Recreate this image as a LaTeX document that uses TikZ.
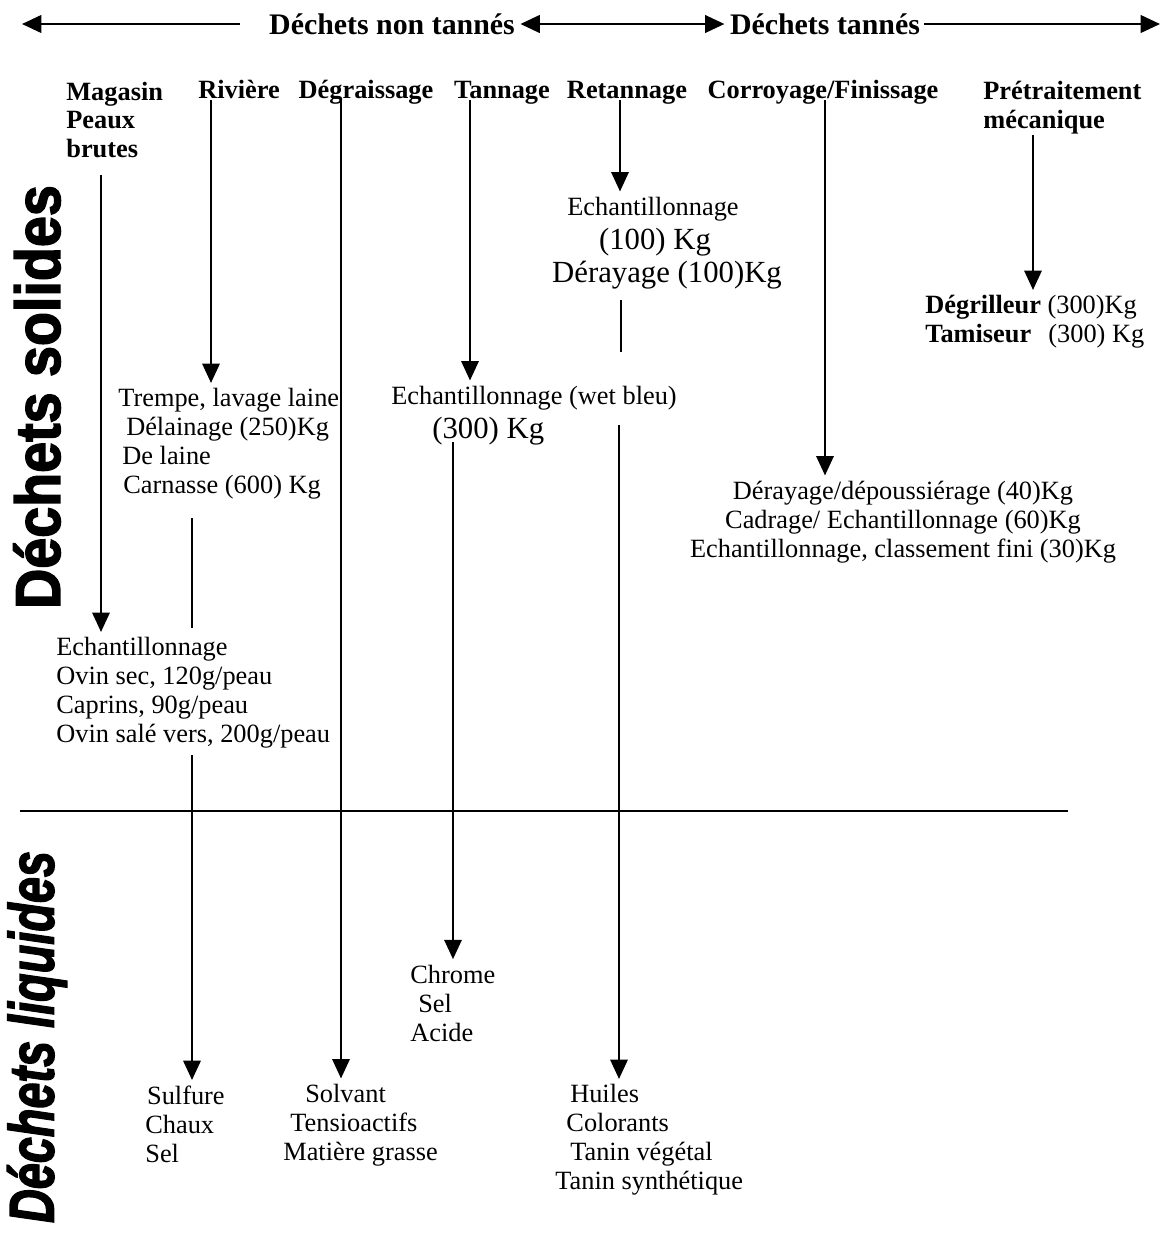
\documentclass[tikz,border=0pt]{standalone}
\usepackage{fontspec}
\setmainfont{Liberation Serif}
\newfontfamily\sidefont[BoldFeatures={FakeBold=2.5}, BoldItalicFeatures={FakeBold=2.5}]{Liberation Sans}
\usepackage{graphicx}
\usetikzlibrary{positioning, arrows.meta}

\begin{document}
\begin{tikzpicture}[x=0.02cm, y=-0.02cm,
  >={Triangle[width=10pt,length=11pt]},
  txt/.style={inner sep=0pt, font=\fontsize{15}{16.5}\selectfont},
  hd/.style={inner sep=0pt, font=\fontsize{15}{16.5}\selectfont\bfseries},
  bigtxt/.style={inner sep=0pt, font=\fontsize{17.5}{19}\selectfont},
  toptxt/.style={inner sep=0pt, font=\fontsize{17}{20}\selectfont\bfseries},
  side/.style={rotate=90, inner sep=0pt, font=\sidefont\fontsize{36}{36}\selectfont\bfseries},
  down/.style={line width=0.8pt, ->, shorten >=3pt},
  plain/.style={line width=0.8pt},
  toparr/.style={line width=1.3pt}]
\useasboundingbox (0,0) rectangle (1162,1235);

% top arrows
\node[toptxt] (nontan) at (392,24) {Déchets non tannés};
\node[toptxt] (tan) at (825,24) {Déchets tannés};
\coordinate (lstart) at (240,24);
\coordinate (lend) at (22,24);
\coordinate (rend) at (1160,24);
\draw[toparr, ->] (lstart) -- (lend);
\draw[toparr, <->, shorten <=3pt, shorten >=3pt] (nontan.east) -- (tan.west);
\draw[toparr, ->, shorten <=2pt] (tan.east) -- (rend);

% side labels
\node[side] (solid) at (37,397) {\scalebox{0.88}[1]{Déchets solides}};
\node[side] (liquid) at (37,1037) {\itshape\scalebox{0.74}[1]{Déchets liquides}};

% separation line
\coordinate (sepl) at (20,811);
\coordinate (sepr) at (1068,811);
\draw[line width=0.9pt] (sepl) -- (sepr);

% column heads
\node[hd, anchor=west, align=left] (hmag) at (66,120) {Magasin\\Peaux\\brutes};
\node[hd, anchor=base] (hriv) at (239,98) {Rivière};
\node[hd, anchor=base] (hdeg) at (366,98) {Dégraissage};
\node[hd, anchor=base] (htan) at (502,98) {Tannage};
\node[hd, anchor=base] (hret) at (627,98) {Retannage};
\node[hd, anchor=base] (hcor) at (823,98) {Corroyage/Finissage};
\node[hd, anchor=west, align=left] (hpre) at (983,108) {Prétraitement\\mécanique};

% solid wastes
\node[txt, anchor=west, align=left] (briv) at (118,444) {Trempe, lavage laine\\\hspace*{4.5pt}Délainage (250)Kg\\\hspace*{2.3pt}De laine\\\hspace*{2.8pt}Carnasse (600) Kg};
\node[txt, anchor=west, align=left] (bech) at (56,693) {Echantillonnage\\Ovin sec, 120g/peau\\Caprins, 90g/peau\\Ovin salé vers, 200g/peau};
\node[txt] (btana) at (534,398) {Echantillonnage (wet bleu)};
\node[bigtxt, anchor=west] (btanb) at (432,431) {(300) Kg};
\node[txt] (breta) at (653,209) {Echantillonnage};
\node[bigtxt] (bretb) at (655,242) {(100) Kg};
\node[bigtxt] (bretc) at (667,275) {Dérayage (100)Kg};
\node[txt, align=center] (bcor) at (903,522) {Dérayage/dépoussiérage (40)Kg\\Cadrage/ Echantillonnage (60)Kg\\Echantillonnage, classement fini (30)Kg};
\node[txt, anchor=west, align=left] (bpre) at (925,322) {\textbf{Dégrilleur} (300)Kg\\\textbf{Tamiseur}\hspace{6pt} (300) Kg};

% liquid wastes
\node[txt, anchor=west, align=left] (bchr) at (410,1003) {Chrome\\\hspace*{4.5pt}Sel\\Acide};
\node[txt, anchor=west, align=left] (bsul) at (145,1124) {\hspace*{1pt}Sulfure\\Chaux\\Sel};
\node[txt, anchor=west, align=left] (bsol) at (283,1125) {\hspace*{12.5pt}Solvant\\\hspace*{4pt}Tensioactifs\\Matière grasse};
\node[txt, anchor=west, align=left] (bhui) at (555,1140) {\hspace*{8.5pt}Huiles\\\hspace*{6.3pt}Colorants\\\hspace*{8.5pt}Tanin végétal\\Tanin synthétique};

% Magasin
\coordinate (magtop) at (101,175);
\draw[down] (magtop) -- (magtop |- bech.north);
% Riviere
\coordinate (rivtop) at (211,100);
\draw[down] (rivtop) -- (rivtop |- briv.north);
\coordinate (rivmid) at (192,518);
\coordinate (rivmidend) at (192,628);
\draw[plain] (rivmid) -- (rivmidend);
\coordinate (rivbot) at (192,755);
\draw[down] (rivbot) -- (rivbot |- bsul.north);
% Degraissage
\coordinate (degtop) at (341,100);
\draw[down] (degtop) -- (degtop |- bsol.north);
% Tannage
\coordinate (tantop) at (470,100);
\draw[down] (tantop) -- (tantop |- btana.north);
\coordinate (tanbot) at (453,442);
\draw[down] (tanbot) -- (tanbot |- bchr.north);
% Retannage
\coordinate (rettop) at (620,100);
\draw[down] (rettop) -- (rettop |- breta.north);
\coordinate (retmid) at (621,300);
\coordinate (retmidend) at (621,352);
\draw[plain] (retmid) -- (retmidend);
\coordinate (retbot) at (619,425);
\draw[down] (retbot) -- (retbot |- bhui.north);
% Corroyage
\coordinate (cortop) at (825,100);
\draw[down] (cortop) -- (cortop |- bcor.north);
% Pretraitement
\coordinate (pretop) at (1033,135);
\draw[down] (pretop) -- (pretop |- bpre.north);
\end{tikzpicture}
\end{document}
